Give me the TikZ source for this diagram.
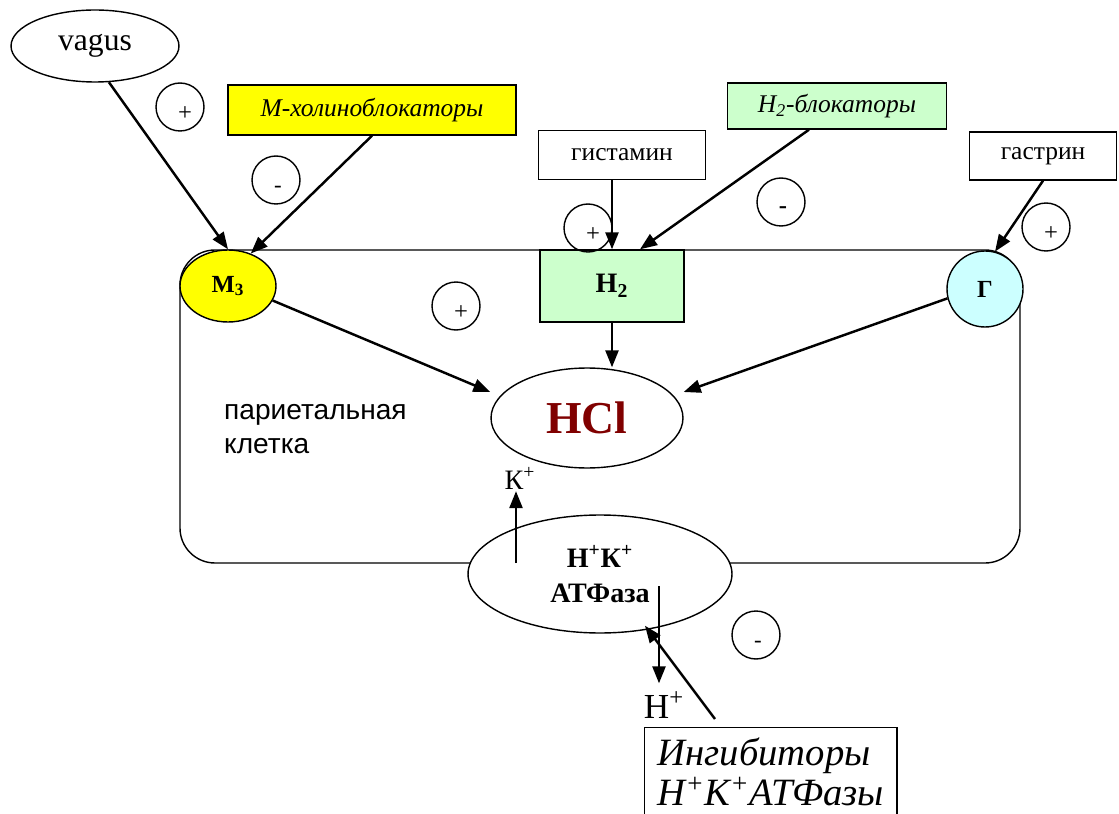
\documentclass[tikz,border=0pt]{standalone}
\usepackage{fontspec}
\setmainfont{Liberation Serif}
\newfontfamily\cellfont{Liberation Sans}
\usetikzlibrary{arrows.meta,calc,shapes.geometric}
\definecolor{mhyellow}{HTML}{FFFF00}
\definecolor{mhgreen}{HTML}{CCFFCC}
\definecolor{mhcyan}{HTML}{CCFFFF}
\definecolor{hclred}{HTML}{800000}

\begin{document}
\begin{tikzpicture}[x=0.02cm,y=-0.02cm]
    % Estilos
    \tikzset{
      arr/.style={-{Triangle[length=0.34cm,width=0.26cm]}, line width=1.4pt},
      box/.style={draw, line width=0.8pt, inner sep=0pt},
      oval/.style={ellipse, draw, line width=0.8pt, inner sep=0pt},
      sgn/.style={circle, draw, line width=0.8pt, minimum size=0.96cm, inner sep=0pt},
      plusmark/.style={sgn, label={[shift={(5,7)}, font=\fontsize{14}{14}\selectfont]center:+}},
      minusmark/.style={sgn, label={[shift={(2,9)}, font=\fontsize{13}{13}\selectfont]center:-}},
      txt/.style={font=\fontsize{14.5}{17}\selectfont},
      itxt/.style={font=\itshape\fontsize{14.5}{17}\selectfont},
    }
    \useasboundingbox (0,0) rectangle (1119,814);
    \clip (0,0) rectangle (1119,814);

    % Clula parietal
    \draw[line width=0.8pt, rounded corners=0.7cm] (180,250) rectangle (1020,563);
    \node[font=\cellfont\fontsize{16}{19.5}\selectfont, align=left, anchor=west] (cell) at (218,429) {париетальная\\клетка};

    % Receptores
    \node[oval, fill=mhyellow, minimum width=1.92cm, minimum height=1.44cm, font=\bfseries\fontsize{14}{14}\selectfont] (m3) at (228,286) {M\textsubscript{3}};
    \node[box, fill=mhgreen, minimum width=2.88cm, minimum height=1.44cm, font=\bfseries\fontsize{16}{16}\selectfont] (h2) at (612,286) {H\textsubscript{2}};
    \node[oval, fill=mhcyan, minimum width=1.52cm, minimum height=1.52cm, font=\bfseries\fontsize{14}{14}\selectfont] (gam) at (985,289) {Г};

    % Estmulos
    \node[oval, minimum width=3.36cm, minimum height=1.44cm, font=\fontsize{18}{18}\selectfont] (vagus) at (95,46) {vagus};
    \node[box, fill=mhyellow, minimum width=5.76cm, minimum height=1.0cm, itxt] (mhol) at (372,110) {M-холиноблокаторы};
    \node[box, fill=mhgreen, minimum width=4.38cm, minimum height=0.92cm, itxt] (h2b) at (837,106) {H\textsubscript{2}-блокаторы};
    \node[box, minimum width=3.34cm, minimum height=0.98cm, txt] (gist) at (622,155) {гистамин};
    \node[box, minimum width=2.94cm, minimum height=0.96cm, txt] (gastr) at (1043,156) {гастрин};

    % HCl y bomba
    \node[oval, minimum width=3.84cm, minimum height=2.0cm, text=hclred, font=\bfseries\fontsize{26}{26}\selectfont] (hcl) at (587,418) {HCl};
    \node[oval, fill=white, minimum width=5.28cm, minimum height=2.36cm, align=center, font=\bfseries\fontsize{16}{20}\selectfont] (atp) at (600,574) {Н\textsuperscript{+}К\textsuperscript{+}\\АТФаза};
    \node[font=\fontsize{16}{16}\selectfont, inner sep=1pt] (kplus) at (520,478) {К\textsuperscript{+}};
    \node[font=\fontsize{20}{20}\selectfont, inner sep=1pt] (hplus) at (664,705) {Н\textsuperscript{+}};
    \node[box, anchor=north west, minimum width=4.9cm, inner xsep=0.26cm, inner ysep=0.2cm, align=left, font=\itshape\fontsize{22}{22.7}\selectfont] (inh) at (644,727) {Ингибиторы\\Н\textsuperscript{+}К\textsuperscript{+}АТФазы};

    % Signos
    \node[plusmark] (s1) at (180,107) {};
    \node[minusmark] (s2) at (276,180) {};
    \node[plusmark] (s3) at (588,228) {};
    \node[sgn, label={[shift={(2,8)}, font=\bfseries\fontsize{14}{14}\selectfont]center:-}] (s4) at (781,202) {};
    \node[plusmark] (s5) at (1046,227) {};
    \node[plusmark] (s6) at (456,306) {};
    \node[minusmark] (s7) at (756,635) {};

    % Flechas
    \draw[arr] (vagus.-69) -- (m3.north);
    \draw[arr] (mhol.south) -- (m3.55);
    \draw[arr] (h2.north |- gist.south) -- (h2.north);
    \draw[arr] ($(h2b.south)+(-28,0)$) -- ($(h2.north)+(28,0)$);
    \draw[arr] (gastr.south) -- (gam.75);
    \draw[arr] (m3.-18) -- ($(hcl.west)+(0,-26)$);
    \draw[arr] (h2.south) -- (h2.south |- hcl.north);
    \draw[arr] (gam.194) -- ($(hcl.east)+(0,-26)$);
    \draw[arr] ($(atp.center)+(-84,-11)$) coordinate (kfoot) -- (kfoot |- kplus.south);
    \draw[arr] ($(atp.center)+(59,12)$) coordinate (hfoot) -- ($(hfoot |- hplus.north)+(0,-6)$);
    \draw[arr] ($(inh.north west)+(71,-8)$) -- ($(atp.south)+(45,-8)$);
  \end{tikzpicture}
\end{document}
